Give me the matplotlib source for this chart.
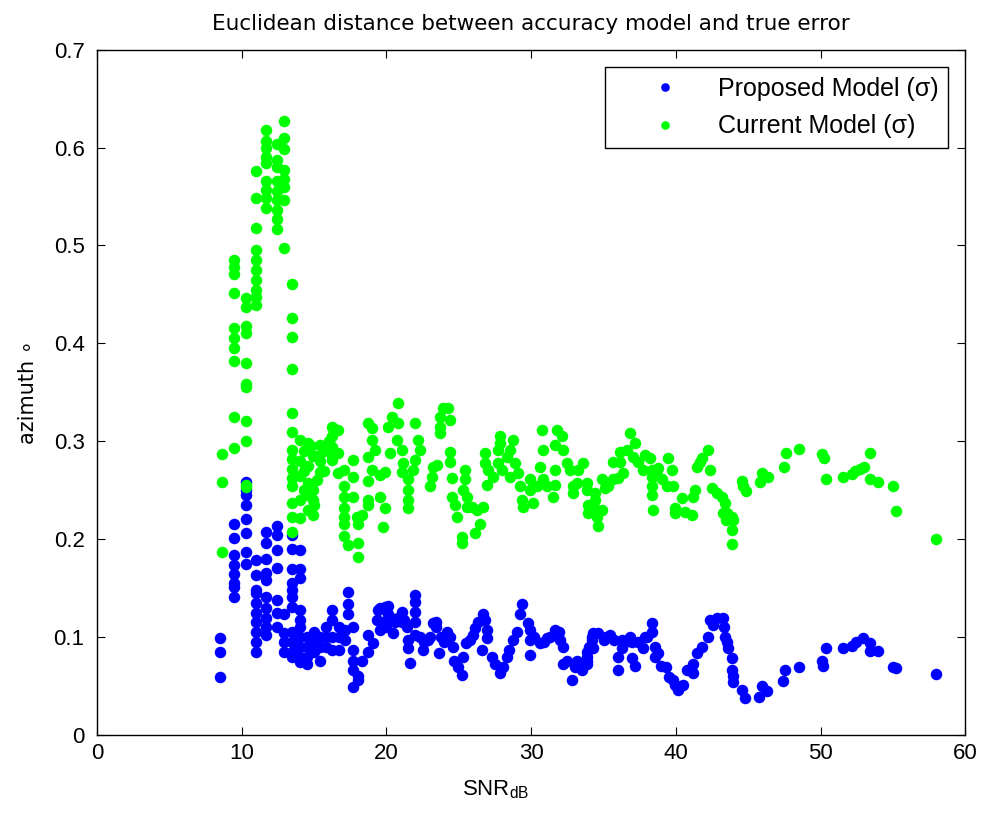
import matplotlib
matplotlib.use("Agg")
import matplotlib.pyplot as plt

plt.rcParams['font.family'] = ['Liberation Sans', 'DejaVu Sans']
plt.rcParams['mathtext.fontset'] = 'custom'
plt.rcParams['mathtext.rm'] = 'Liberation Sans'
plt.rcParams['mathtext.it'] = 'Liberation Sans:italic'

# Proposed model (blue): SNR in dB and error values
snr_proposed = [
    8.5, 8.5, 8.5,
    9.45, 9.45, 9.45, 9.45, 9.45, 9.45, 9.45, 9.45,
    10.3, 10.3, 10.3, 10.3, 10.3, 10.3, 10.3, 10.3,
    11.0, 11.0, 11.0, 11.0, 11.0, 11.0, 11.0, 11.0, 11.0, 11.0,
    11.7, 11.7, 11.7, 11.7, 11.7, 11.7, 11.7, 11.7, 11.7, 11.7,
    12.4, 12.4, 12.4, 12.4, 12.4, 12.4, 12.4,
    12.9, 12.9, 12.9, 12.9,
    13.5, 13.5, 13.5, 13.5, 13.5, 13.5, 13.5, 13.5, 13.5, 13.5, 13.5,
    14.0, 14.0, 14.0, 14.0, 14.0, 14.0, 14.0, 14.0, 14.0, 14.0,
    14.5, 14.5, 14.5, 14.5,
    15.0, 15.0, 15.0,
    15.4, 15.4, 15.4,
    15.8, 15.8, 15.8,
    16.2, 16.2, 16.2, 16.2,
    16.7, 16.7, 16.7,
    17.1, 17.1,
    17.35, 17.35, 17.35,
    17.7, 17.7, 17.7, 17.7, 17.7,
    18.0, 18.0, 18.3, 18.7, 18.7, 19.1, 19.35, 19.4, 19.55, 19.55,
    19.7, 19.9, 20.0, 20.1, 20.1, 20.1, 20.3, 20.45, 20.6, 20.8,
    21.1, 21.1, 21.2, 21.4, 21.5, 21.5, 21.6,
    22.0, 22.0, 22.0, 22.0, 22.0, 22.3, 22.5, 22.6, 22.9, 23.0,
    23.2, 23.4, 23.4, 23.6, 23.8, 24.0, 24.2, 24.4, 24.6, 24.7,
    24.95, 25.2, 25.3, 25.5, 25.8, 26.0, 26.1, 26.3, 26.6, 26.7,
    26.8, 26.95, 26.95, 27.3, 27.5, 27.85, 28.05, 28.3, 28.5, 28.75,
    29.0, 29.2, 29.35, 29.8, 29.9, 29.9, 29.9, 30.2, 30.6, 30.9,
    31.1, 31.3, 31.65, 31.9, 32.0, 32.2, 32.2, 32.5, 32.8, 33.0,
    33.2, 33.5, 33.85, 33.85, 33.85, 33.85, 34.0, 34.2, 34.2, 34.3,
    34.3, 34.6, 35.0, 35.2, 35.45, 35.7, 36.0, 36.0, 36.3, 36.3,
    36.5, 36.8, 36.95, 37.0, 37.2, 37.4, 37.7, 37.9, 38.0, 38.35,
    38.35, 38.55, 38.55, 38.75, 39.0, 39.3, 39.5, 39.8, 39.95, 40.15,
    40.5, 40.75, 41.2, 41.2, 41.45, 41.8, 42.2, 42.35, 42.55, 42.85,
    43.25, 43.35, 43.4, 43.5, 43.6, 43.9, 43.9, 43.95, 43.95, 44.6,
    44.8, 45.75, 45.95, 46.3, 47.4, 47.55, 48.5, 50.1, 50.2, 50.4,
    51.55, 52.2, 52.45, 52.95, 53.4, 53.4, 53.95, 55.0, 55.2, 58.0,
]
err_proposed = [
    0.099, 0.085, 0.059,
    0.216, 0.201, 0.184, 0.174, 0.164, 0.155, 0.151, 0.141,
    0.258, 0.250, 0.245, 0.235, 0.221, 0.206, 0.187, 0.175,
    0.179, 0.163, 0.148, 0.145, 0.135, 0.125, 0.115, 0.105, 0.095, 0.085,
    0.207, 0.196, 0.180, 0.165, 0.158, 0.141, 0.130, 0.120, 0.110, 0.102,
    0.214, 0.204, 0.189, 0.171, 0.138, 0.125, 0.110,
    0.124, 0.104, 0.095, 0.085,
    0.204, 0.190, 0.170, 0.155, 0.148, 0.141, 0.131, 0.105, 0.095, 0.085, 0.080,
    0.189, 0.170, 0.160, 0.128, 0.117, 0.110, 0.100, 0.090, 0.080, 0.075,
    0.100, 0.090, 0.080, 0.073,
    0.105, 0.095, 0.085,
    0.100, 0.090, 0.076,
    0.110, 0.100, 0.090,
    0.128, 0.117, 0.100, 0.087,
    0.110, 0.100, 0.087,
    0.107, 0.097,
    0.146, 0.134, 0.124,
    0.110, 0.087, 0.076, 0.066, 0.049,
    0.060, 0.056, 0.076, 0.102, 0.085, 0.094, 0.117, 0.128, 0.107, 0.130,
    0.115, 0.131, 0.110, 0.124, 0.132, 0.117, 0.120, 0.104, 0.115, 0.120,
    0.126, 0.115, 0.118, 0.110, 0.097, 0.089, 0.074,
    0.143, 0.136, 0.126, 0.115, 0.102, 0.100, 0.087, 0.095, 0.097, 0.100,
    0.114, 0.115, 0.110, 0.084, 0.100, 0.095, 0.105, 0.100, 0.090, 0.076,
    0.069, 0.061, 0.080, 0.094, 0.097, 0.102, 0.109, 0.115, 0.087, 0.124,
    0.117, 0.107, 0.099, 0.080, 0.073, 0.063, 0.069, 0.080, 0.087, 0.097,
    0.105, 0.124, 0.134, 0.114, 0.107, 0.097, 0.082, 0.100, 0.094, 0.095,
    0.099, 0.100, 0.107, 0.105, 0.097, 0.090, 0.073, 0.076, 0.056, 0.070,
    0.076, 0.066, 0.076, 0.085, 0.080, 0.073, 0.090, 0.097, 0.100, 0.104,
    0.089, 0.104, 0.097, 0.100, 0.102, 0.097, 0.080, 0.066, 0.097, 0.089,
    0.095, 0.100, 0.079, 0.095, 0.071, 0.095, 0.089, 0.100, 0.100, 0.114,
    0.105, 0.090, 0.080, 0.084, 0.071, 0.069, 0.059, 0.056, 0.051, 0.046,
    0.051, 0.066, 0.063, 0.073, 0.084, 0.090, 0.100, 0.117, 0.112, 0.120,
    0.120, 0.110, 0.100, 0.095, 0.089, 0.079, 0.066, 0.060, 0.054, 0.046,
    0.038, 0.039, 0.050, 0.045, 0.055, 0.066, 0.069, 0.076, 0.071, 0.089,
    0.089, 0.091, 0.095, 0.099, 0.094, 0.086, 0.086, 0.070, 0.068, 0.062,
]

# Current model (green)
snr_current = [
    8.64, 8.64, 8.64,
    9.45, 9.45, 9.45, 9.45, 9.45, 9.45, 9.45, 9.45, 9.45, 9.45,
    10.3, 10.3, 10.3, 10.3, 10.3, 10.3, 10.3, 10.3, 10.3, 10.3, 10.3,
    11.0, 11.0, 11.0, 11.0, 11.0, 11.0, 11.0, 11.0, 11.0, 11.0,
    11.7, 11.7, 11.7, 11.7, 11.7, 11.7, 11.7, 11.7, 11.7,
    12.4, 12.4, 12.4, 12.4, 12.4, 12.4, 12.4, 12.4, 12.4,
    12.9, 12.9, 12.9, 12.9, 12.9, 12.9, 12.9, 12.9,
    13.5, 13.5, 13.5, 13.5, 13.5, 13.5, 13.5, 13.5, 13.5, 13.5, 13.5, 13.5, 13.5, 13.5,
    14.03, 14.03, 14.03, 14.03, 14.03, 14.3, 14.3, 14.3,
    14.58, 14.58, 14.58, 14.58, 14.6, 14.8,
    14.93, 14.93, 14.93, 14.93, 15.0, 15.2, 15.2,
    15.41, 15.41, 15.41, 15.7, 15.7, 16.0,
    16.22, 16.22, 16.22, 16.22, 16.22, 16.66, 16.66, 16.66,
    17.07, 17.07, 17.07, 17.07, 17.07, 17.07, 17.07, 17.35,
    17.69, 17.69, 17.69, 17.97, 18.04, 18.04, 18.04, 18.31,
    18.73, 18.73, 18.73, 18.73, 18.73, 19.0, 19.0, 19.0, 19.21,
    19.56, 19.56, 19.77, 19.9, 19.9,
    20.11, 20.25, 20.39, 20.73, 20.8, 20.8, 21.08, 21.08, 21.15,
    21.49, 21.49, 21.49, 21.49, 21.84, 21.98, 21.98, 22.18, 22.32,
    23.01, 23.15, 23.22, 23.5, 23.7, 23.7, 23.7, 23.91, 24.26, 24.4,
    24.4, 24.4, 24.53, 24.53, 24.74, 24.88, 25.22, 25.22,
    25.43, 25.43, 25.29, 25.57, 25.57, 25.92, 26.12, 26.26, 26.47, 26.68,
    26.81, 26.81, 27.02, 26.95, 27.37, 27.85, 27.85, 27.71, 27.71, 27.99,
    28.33, 28.54, 28.75, 28.54, 28.89, 29.09, 29.23, 29.37, 29.44,
    29.92, 29.92, 30.13, 30.41, 30.62, 30.75, 30.82, 30.82, 31.1,
    31.51, 31.65, 31.65, 31.65, 31.79, 32.14, 32.2, 32.48, 32.69, 32.9, 32.9,
    33.17, 33.24, 33.59, 33.86, 33.86, 34.42, 34.42, 33.93, 33.93,
    34.55, 34.55, 34.62, 34.9, 34.9, 35.11, 35.31,
    35.66, 35.66, 36.01, 36.14, 36.14, 36.35, 36.63, 36.83, 37.18, 37.04, 37.39,
    37.73, 37.87, 38.22, 38.36, 38.36, 38.36, 38.36, 38.42,
    38.7, 38.77, 39.05, 39.39, 39.46, 39.74, 39.81,
    39.94, 39.94, 40.43, 40.64, 41.12, 41.19, 41.33,
    41.47, 41.67, 41.81, 42.22, 42.36, 42.5,
    42.85, 43.19, 43.26, 43.4, 43.47, 43.54, 43.88, 43.95, 43.88, 43.88,
    44.58, 44.64, 44.85, 45.82, 45.96, 46.37, 47.48, 47.62, 48.51,
    50.1, 50.24, 50.38, 51.56, 52.18, 52.38, 52.73, 53.01,
    53.42, 53.42, 53.97, 55.01, 55.22, 57.98,
]
err_current = [
    0.287, 0.258, 0.187,
    0.485, 0.478, 0.471, 0.451, 0.416, 0.406, 0.395, 0.382, 0.325, 0.293,
    0.446, 0.437, 0.418, 0.411, 0.380, 0.359, 0.355, 0.321, 0.300, 0.255, 0.253,
    0.576, 0.549, 0.518, 0.495, 0.485, 0.475, 0.465, 0.455, 0.447, 0.439,
    0.618, 0.607, 0.600, 0.590, 0.584, 0.566, 0.557, 0.548, 0.538,
    0.604, 0.587, 0.580, 0.566, 0.556, 0.546, 0.536, 0.527, 0.517,
    0.627, 0.610, 0.599, 0.577, 0.568, 0.560, 0.546, 0.497,
    0.461, 0.426, 0.407, 0.374, 0.329, 0.310, 0.291, 0.282, 0.272, 0.263, 0.254, 0.237, 0.223, 0.207,
    0.301, 0.280, 0.265, 0.240, 0.222, 0.290, 0.270, 0.250,
    0.298, 0.275, 0.257, 0.230, 0.245, 0.295,
    0.285, 0.250, 0.240, 0.225, 0.235, 0.285, 0.260,
    0.296, 0.280, 0.269, 0.290, 0.270, 0.300,
    0.315, 0.305, 0.294, 0.284, 0.281, 0.312, 0.288, 0.268,
    0.271, 0.254, 0.243, 0.232, 0.223, 0.216, 0.203, 0.194,
    0.281, 0.264, 0.243, 0.223, 0.216, 0.196, 0.182, 0.225,
    0.319, 0.284, 0.259, 0.240, 0.235, 0.314, 0.301, 0.271, 0.291,
    0.266, 0.243, 0.212, 0.269, 0.232,
    0.315, 0.288, 0.325, 0.301, 0.339, 0.319, 0.291, 0.269, 0.278,
    0.261, 0.250, 0.240, 0.232, 0.271, 0.319, 0.281, 0.301, 0.291,
    0.254, 0.264, 0.274, 0.276, 0.325, 0.315, 0.308, 0.334, 0.334, 0.322,
    0.289, 0.279, 0.263, 0.243, 0.235, 0.223, 0.202, 0.196,
    0.271, 0.261, 0.250, 0.243, 0.233, 0.233, 0.206, 0.230, 0.216, 0.233,
    0.288, 0.278, 0.271, 0.255, 0.264, 0.305, 0.298, 0.291, 0.278, 0.271,
    0.284, 0.291, 0.301, 0.264, 0.278, 0.268, 0.254, 0.240, 0.233,
    0.261, 0.250, 0.237, 0.254, 0.274, 0.312, 0.291, 0.261, 0.254,
    0.243, 0.255, 0.271, 0.296, 0.312, 0.305, 0.291, 0.278, 0.271, 0.254, 0.247,
    0.257, 0.271, 0.278, 0.257, 0.250, 0.247, 0.240, 0.235, 0.227,
    0.230, 0.223, 0.213, 0.230, 0.261, 0.252, 0.254,
    0.261, 0.279, 0.263, 0.289, 0.279, 0.268, 0.291, 0.308, 0.298, 0.284, 0.279,
    0.271, 0.286, 0.283, 0.271, 0.264, 0.254, 0.245, 0.230,
    0.266, 0.273, 0.261, 0.254, 0.283, 0.271, 0.254,
    0.232, 0.227, 0.242, 0.228, 0.225, 0.243, 0.250,
    0.274, 0.279, 0.283, 0.291, 0.271, 0.252,
    0.247, 0.243, 0.227, 0.237, 0.220, 0.227, 0.223, 0.220, 0.209, 0.195,
    0.259, 0.254, 0.249, 0.258, 0.268, 0.264, 0.274, 0.288, 0.292,
    0.287, 0.283, 0.262, 0.264, 0.267, 0.270, 0.272, 0.274,
    0.288, 0.262, 0.258, 0.254, 0.229, 0.200,
]

fig = plt.figure(figsize=(9.91, 8.14), dpi=100)
ax = fig.add_axes([0.098, 0.097, 0.876, 0.842])

ax.plot(snr_proposed, err_proposed, 'o', color='#0000ff', markersize=8.3,
        markeredgewidth=0, label='Proposed Model (σ)')
ax.plot(snr_current, err_current, 'o', color='#00ff00', markersize=8.3,
        markeredgewidth=0, label='Current Model (σ)')

ax.set_xlim(0, 60)
ax.set_ylim(0, 0.7)
ax.set_xticks(range(0, 61, 10))
ax.set_yticks([0, 0.1, 0.2, 0.3, 0.4, 0.5, 0.6, 0.7])
ax.set_yticklabels(['0', '0.1', '0.2', '0.3', '0.4', '0.5', '0.6', '0.7'])
ax.tick_params(direction='in', top=True, right=True, length=6, width=0.8,
               labelsize=16)
ax.tick_params(axis='y', pad=9)
ax.tick_params(axis='x', pad=6)
for s in ax.spines.values():
    s.set_linewidth(1.0)

ax.set_title('Euclidean distance between accuracy model and true error',
             fontsize=15.5, family=['DejaVu Sans'], pad=14)
ax.set_xlabel(r'SNR$_{\mathrm{dB}}$', fontsize=16)
ax.xaxis.set_label_coords(0.459, -0.063)
ax.set_ylabel('azimuth ∘', fontsize=15, family=['DejaVu Sans'])
ax.yaxis.set_label_coords(-0.068, 0.5)

leg = ax.legend(loc='upper right', fontsize=18, markerscale=0.75,
                fancybox=False, edgecolor='black', framealpha=1,
                borderaxespad=0.68, handletextpad=0.1, borderpad=0.4,
                labelspacing=0.55, handlelength=4.0, numpoints=1)
leg.get_frame().set_linewidth(1.0)

fig.savefig('out.png', dpi=100)
